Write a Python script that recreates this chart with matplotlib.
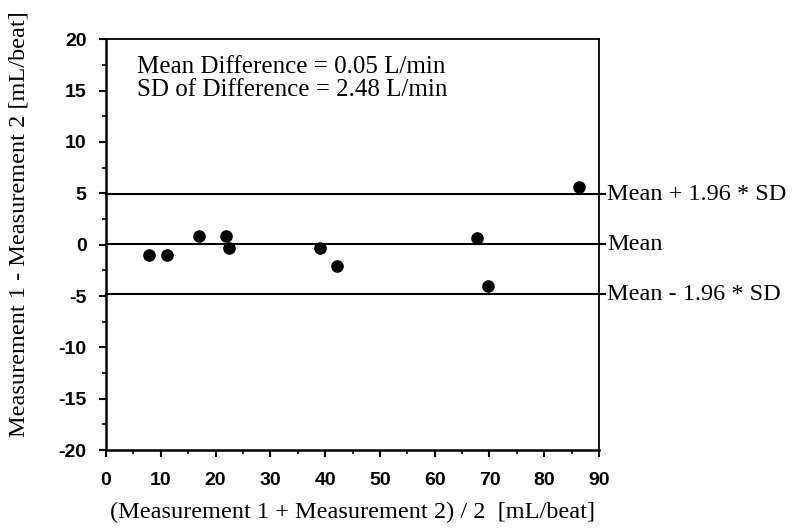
import matplotlib
matplotlib.use("Agg")
import matplotlib.pyplot as plt
from matplotlib.ticker import MultipleLocator

# Data
avg_values = [7.9, 11.1, 16.9, 21.9, 22.5, 39.1, 42.2, 67.7, 69.7, 86.4]
diff_values = [-1.0, -1.0, 0.8, 0.8, -0.3, -0.3, -2.1, 0.6, -4.0, 5.6]
mean_diff = 0.05
sd_diff = 2.48
x_ticks = [0, 10, 20, 30, 40, 50, 60, 70, 80, 90]
y_ticks = [-20, -15, -10, -5, 0, 5, 10, 15, 20]
line_labels = ["Mean + 1.96 * SD", "Mean", "Mean - 1.96 * SD"]

plt.rcParams["axes.unicode_minus"] = False
serif = "Liberation Serif"
sans = "Liberation Sans"

fig = plt.figure(figsize=(7.97, 5.29), dpi=100)
ax = fig.add_axes([0.133, 0.149, 0.6186, 0.777])

upper = mean_diff + 1.96 * sd_diff
lower = mean_diff - 1.96 * sd_diff
levels = [upper, mean_diff, lower]
for lv in levels:
    ax.axhline(lv, xmin=0, xmax=1.012, color="black", lw=1.5, clip_on=False)

ax.scatter(avg_values, diff_values, s=65, color="black", zorder=3, clip_on=False)

ax.set_xlim(0, 90)
ax.set_ylim(-20, 20)
ax.set_xticks(x_ticks)
ax.set_yticks(y_ticks)
ax.xaxis.set_minor_locator(MultipleLocator(5))
ax.yaxis.set_minor_locator(MultipleLocator(2.5))
ax.tick_params(which="major", direction="out", length=5, width=1.5, labelsize=14,
               top=False, right=False)
ax.tick_params(axis="x", which="major", pad=11)
ax.tick_params(axis="y", which="major", pad=9)
ax.tick_params(which="minor", direction="out", length=3, width=1.2, top=False, right=False)
for lbl in ax.get_xticklabels() + ax.get_yticklabels():
    lbl.set_fontfamily(sans)
    lbl.set_fontweight("bold")

for side in ["left", "bottom"]:
    ax.spines[side].set_linewidth(1.8)
for side in ["top", "right"]:
    ax.spines[side].set_linewidth(1.3)

ax.set_xlabel("(Measurement 1 + Measurement 2) / 2  [mL/beat]", fontfamily=serif,
              fontsize=17.5, labelpad=9)
ax.set_ylabel("Measurement 1 - Measurement 2 [mL/beat]", fontfamily=serif,
              fontsize=17.5, labelpad=14)
ax.yaxis.set_label_coords(-0.155, 0.55)

ax.text(0.062, 0.958, "Mean Difference = %.2f L/min\nSD of Difference = %.2f L/min" % (mean_diff, sd_diff),
        transform=ax.transAxes, ha="left", va="top", fontfamily=serif, fontsize=18,
        linespacing=1.02)

for lv, lab in zip(levels, line_labels):
    ax.annotate(lab, xy=(1.0, lv), xycoords=("axes fraction", "data"),
                xytext=(6, 0), textcoords="offset points", ha="left", va="center",
                fontfamily=serif, fontsize=17.5)

fig.savefig("out.png", dpi=100)
